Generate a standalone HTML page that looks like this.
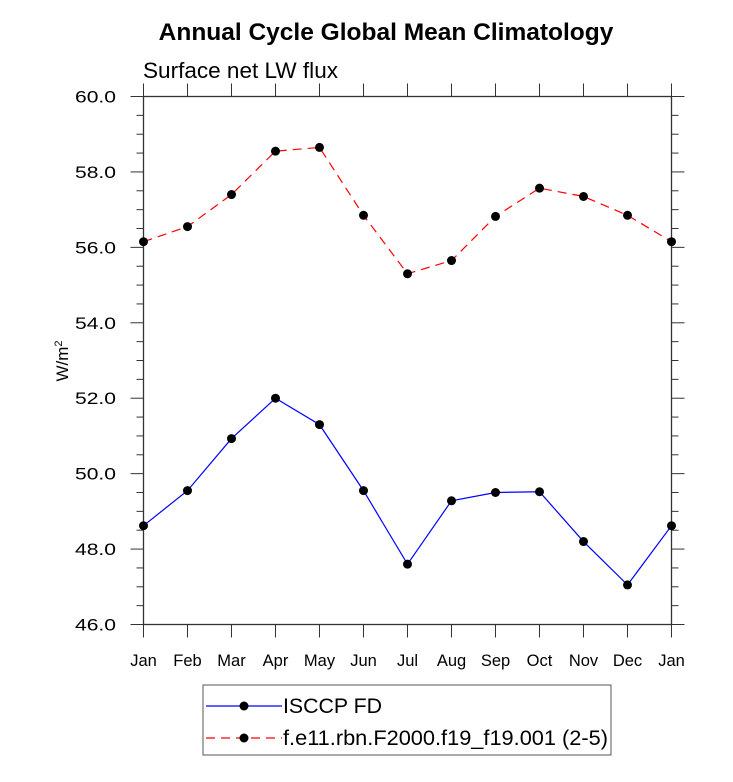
<!DOCTYPE html>
<html><head><meta charset="utf-8"><style>
body{margin:0;background:#fff;font-family:"Liberation Sans",sans-serif}
</style></head><body>
<svg width="733" height="777" xmlns="http://www.w3.org/2000/svg" font-family="Liberation Sans, sans-serif">
<text x="386" y="40" text-anchor="middle" font-size="24.5" font-weight="bold">Annual Cycle Global Mean Climatology</text>
<text x="143" y="78" font-size="22" textLength="195" lengthAdjust="spacingAndGlyphs">Surface net LW flux</text>
<text transform="translate(68,361) rotate(-90)" text-anchor="middle" font-size="17">W/m<tspan dy="-6" font-size="11">2</tspan></text>
<g id="axes"></g>
<g id="series"></g>
<g>
<rect x="203" y="685" width="408" height="70" fill="none" stroke="#555" stroke-width="1"/>
<line x1="206" y1="706" x2="282" y2="706" stroke="#0000ff" stroke-width="1.2"/>
<circle cx="244" cy="706" r="4.5" fill="#000"/>
<text x="283" y="713" font-size="21" textLength="99" lengthAdjust="spacingAndGlyphs">ISCCP FD</text>
<line x1="206" y1="738" x2="282" y2="738" stroke="#ff0000" stroke-width="1.2" stroke-dasharray="9,6"/>
<circle cx="244" cy="738" r="4.5" fill="#000"/>
<text x="283" y="745" font-size="21" textLength="325" lengthAdjust="spacingAndGlyphs">f.e11.rbn.F2000.f19_f19.001 (2-5)</text>
</g>
</svg>
<script>
const months=["Jan","Feb","Mar","Apr","May","Jun","Jul","Aug","Sep","Oct","Nov","Dec","Jan"];
const isccp=[48.62,49.55,50.93,52.0,51.3,49.55,47.6,49.28,49.5,49.52,48.2,47.05,48.62];
const model=[56.15,56.55,57.4,58.55,58.65,56.85,55.3,55.65,56.82,57.57,57.35,56.85,56.15];
const yTicks=[46,48,50,52,54,56,58,60];
const yTickLabels=["46.0","48.0","50.0","52.0","54.0","56.0","58.0","60.0"];
const L=143.5,R=671.5,T=96.5,B=624.5,yMin=46,yMax=60;
const X=i=>L+(R-L)*i/(months.length-1);
const Y=v=>B-(B-T)*(v-yMin)/(yMax-yMin);
const NS="http://www.w3.org/2000/svg";
function mk(tag,attrs,parent){const e=document.createElementNS(NS,tag);for(const k in attrs)e.setAttribute(k,attrs[k]);parent.appendChild(e);return e;}
const ax=document.getElementById('axes');
let e=mk('rect',{x:L,y:T,width:R-L,height:B-T,fill:'none',stroke:'#333','stroke-width':1.3},ax);


for(let v=yMin;v<=yMax+1e-9;v+=0.5){
  const maj=Math.abs(v/2-Math.round(v/2))<1e-9;const len=maj?13:7;
  e=mk('line',{x1:L-len,y1:Y(v),x2:L,y2:Y(v),stroke:'#333','stroke-width':1},ax);
  
  
  e=mk('line',{x1:R,y1:Y(v),x2:R+len,y2:Y(v),stroke:'#333','stroke-width':1},ax);
  
  
}
yTicks.forEach((v,i)=>{
  e=mk('text',{x:116,y:Y(v)+6,'text-anchor':'end','font-size':17,textLength:41,lengthAdjust:'spacingAndGlyphs'},ax);e.textContent=yTickLabels[i];
  
  
});
months.forEach((m,i)=>{
  e=mk('line',{x1:X(i),y1:B,x2:X(i),y2:B+13,stroke:'#333','stroke-width':1},ax);
  
  
  e=mk('line',{x1:X(i),y1:T-13,x2:X(i),y2:T,stroke:'#333','stroke-width':1},ax);
  
  
  e=mk('text',{x:X(i),y:666,'text-anchor':'middle','font-size':16.5},ax);e.textContent=m;
  
  
});
const sg=document.getElementById('series');
function series(vals,color,dash,name){
  const p=mk('polyline',{points:vals.map((v,i)=>X(i)+','+Y(v)).join(' '),fill:'none',stroke:color,'stroke-width':1.2,'stroke-dasharray':dash},sg);
  
  
  vals.forEach((v,i)=>{
    const c=mk('circle',{cx:X(i),cy:Y(v),r:4.5,fill:'#000'},sg);
    
    
  });
}
series(isccp,'#0000ff','none','isccp');
series(model,'#ff0000','9,6','model');
</script>
</body></html>
